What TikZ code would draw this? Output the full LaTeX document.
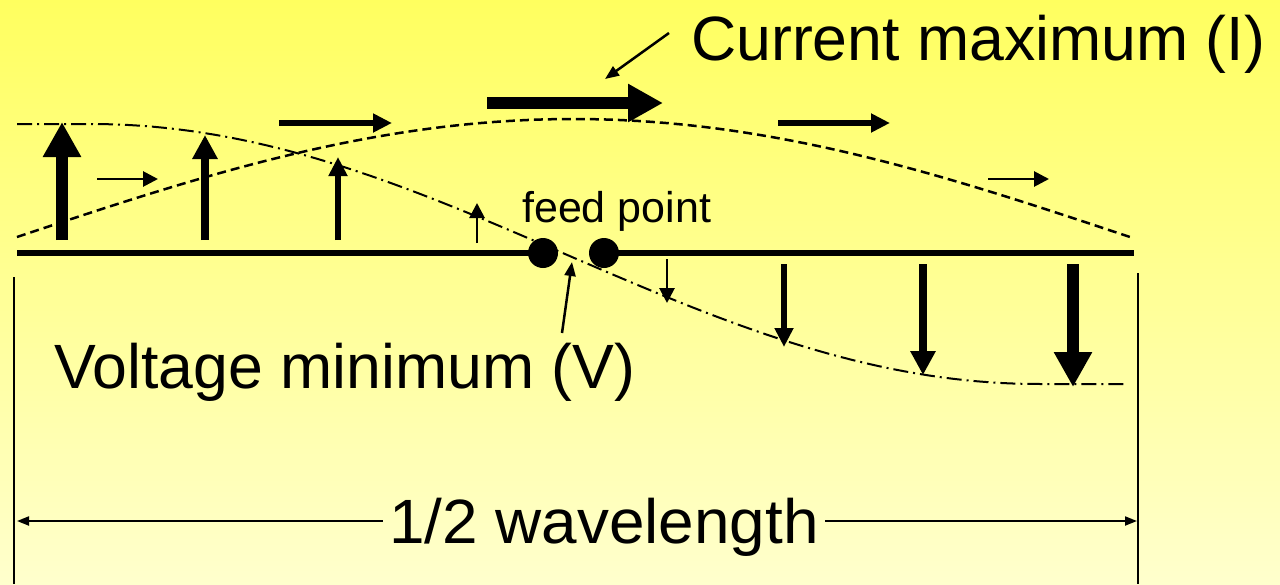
\documentclass[tikz,border=0pt]{standalone}
\usepackage{fontspec}
\setmainfont{Liberation Sans}
\usetikzlibrary{arrows.meta}

\definecolor{bgtop}{RGB}{255,255,95}
\definecolor{bgbot}{RGB}{255,255,205}

\begin{document}
\begin{tikzpicture}[
  x=1pt, y=-1pt,
  bigtext/.style={font=\fontsize{62.6}{70}\selectfont, inner sep=0pt, anchor=base west},
  smalltext/.style={font=\fontsize{43}{48}\selectfont, inner sep=0pt, anchor=base west},
  wire/.style={line width=5.5pt},
  feeddot/.style={circle, fill=black, minimum size=30pt, inner sep=0pt},
  arrbig/.style={line width=11.5pt, -{Triangle[length=35pt,width=36pt]}},
  arrmid/.style={line width=8pt, -{Triangle[length=24pt,width=24pt]}},
  arrsml/.style={line width=5.5pt, -{Triangle[length=19pt,width=18pt]}},
  arrtiny/.style={line width=2.8pt, -{Triangle[length=15pt,width=15pt]}},
  ptr/.style={line width=2.5pt, -{Triangle[length=14pt,width=11pt]}},
  dimline/.style={line width=2pt, -{Triangle[length=12pt,width=9pt]}},
  edge/.style={line width=1.5pt},
  vcurve/.style={line width=2pt, dash pattern=on 15pt off 5pt on 2pt off 5pt},
  icurve/.style={line width=2.5pt, dash pattern=on 9pt off 5pt}
]
% Background
\shade[top color=bgtop, bottom color=bgbot] (0,0) rectangle (1280,584);
\useasboundingbox (0,0) rectangle (1280,584);

% Curves: voltage (dash-dot) and current (dashed)
\draw[vcurve] plot[domain=17:1128, samples=90]
  (\x, {254-130*cos(max(0,min(180,90+(\x-565)*0.19)))});
\draw[icurve] plot[domain=17:1130, samples=90]
  (\x, {237-118*sin((\x-17)*0.161725)});

% Antenna wire and feed point
\node[feeddot] (feedL) at (543,253) {};
\node[feeddot] (feedR) at (604,253) {};
\coordinate (wireL) at (17,253);
\coordinate (wireR) at (1134,253);
\draw[wire] (wireL) -- (feedL.center);
\draw[wire] (feedR.center) -- (wireR);

% Voltage arrows
\draw[arrbig]  (62,240) -- (62,122);
\draw[arrmid]  (205,240) -- (205,135);
\draw[arrsml]  (338,240) -- (338,157);
\draw[arrtiny] (477,243) -- (477,203);
\draw[arrtiny] (667,259) -- (667,303);
\draw[arrsml]  (784,264) -- (784,347);
\draw[arrmid]  (923,264) -- (923,375);
\draw[arrbig]  (1073,264) -- (1073,387);

% Current arrows
\draw[arrtiny] (97,179) -- (158,179);
\draw[arrsml]  (279,123) -- (392,123);
\draw[arrbig]  (487,103) -- (663,103);
\draw[arrsml]  (778,123) -- (890,123);
\draw[arrtiny] (988,179) -- (1049,179);

% Labels
\node[bigtext] (curmax) at (691,60) {Current maximum (I)};
\node[bigtext] (voltmin) at (54,388) {Voltage minimum (V)};
\node[smalltext] (feedpt) at (522,222) {feed point};

\coordinate (curtail) at (669,33);
\coordinate (curtip) at (605,79);
\draw[ptr] (curtail) -- (curtip);
\coordinate (vtail) at (562,333);
\coordinate (vtip) at (572,262);
\draw[ptr] (vtail) -- (vtip);

% Half wavelength dimension
\coordinate (dimL) at (17,521);
\coordinate (dimR) at (1137,521);
\draw[edge] (14,277) -- (14,584);
\draw[edge] (1138,273) -- (1138,584);
\node[bigtext, anchor=base, inner xsep=6pt, xscale=1.02] (halfwave) at (604,543) {1/2 wavelength};
\draw[dimline] (halfwave.west |- dimL) -- (dimL);
\draw[dimline] (halfwave.east |- dimR) -- (dimR);
\end{tikzpicture}
\end{document}
